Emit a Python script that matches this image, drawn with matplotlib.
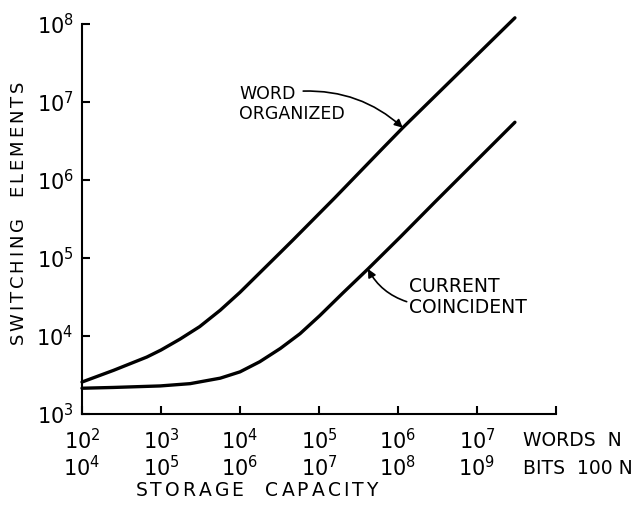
import matplotlib
matplotlib.use("Agg")
import matplotlib.pyplot as plt
from matplotlib.transforms import blended_transform_factory

plt.rcParams['font.family'] = ['DejaVu Sans']
plt.rcParams['mathtext.default'] = 'regular'

# ---- data ----
word_N = [100, 251, 661, 1000, 1740, 3090, 5620, 10000, 17800, 32400, 46800,
          158000, 631000, 1150000, 30200000]
word_elements = [2570, 3630, 5370, 6610, 9120, 13200, 21400, 36300, 64600, 117500, 170000,
                 589000, 2510000, 4680000, 120000000]

cc_N = [100, 251, 977, 2340, 5620, 10000, 17800, 32400, 57500, 102000, 200000,
        417000, 1070000, 2950000, 30200000]
cc_elements = [2140, 2190, 2290, 2450, 2880, 3470, 4680, 6920, 10700, 18200, 35500,
               72400, 186000, 525000, 5500000]

word_exps = [2, 3, 4, 5, 6, 7]
bits_exps = [4, 5, 6, 7, 8, 9]
y_exps = [3, 4, 5, 6, 7, 8]


def spaced(s):
    words = [r'\,'.join(w) for w in s.split(' ')]
    return '$' + r'\quad\,'.join(words) + '$'


fig = plt.figure(figsize=(6.4, 5.25), dpi=100)
ax = fig.add_axes([82/640, 1 - 414/525, (556-82)/640, (414-24)/525])
ax.set_xscale('log')
ax.set_yscale('log')
ax.set_xlim(1e2, 1e8)
ax.set_ylim(1e3, 1e8)

ax.plot(word_N, word_elements, color='black', lw=2.4, solid_capstyle='round',
        solid_joinstyle='round', clip_on=False)
ax.plot(cc_N, cc_elements, color='black', lw=2.4, solid_capstyle='round',
        solid_joinstyle='round', clip_on=False)

for s in ['top', 'right']:
    ax.spines[s].set_visible(False)
for s in ['left', 'bottom']:
    ax.spines[s].set_linewidth(1.5)

ax.minorticks_off()
ax.set_xticks([10.0**e for e in word_exps] + [1e8])
ax.set_xticklabels([r'$10^{%d}$' % e for e in word_exps] + [''])
ax.set_yticks([10.0**e for e in y_exps])
ax.set_yticklabels([r'$10^{%d}$' % e for e in y_exps])
ax.tick_params(direction='in', length=6, width=1.5, labelsize=15)
ax.tick_params(axis='x', pad=10)
ax.tick_params(axis='y', pad=6)

# second row of x labels (bits)
tr = blended_transform_factory(ax.transData, ax.transAxes)
for we, be in zip(word_exps, bits_exps):
    ax.text(10.0**we, -0.138, r'$10^{%d}$' % be, transform=tr, ha='center', va='center',
            fontsize=15)

ax.text(0.93, -0.068, 'WORDS  N', transform=ax.transAxes, ha='left', va='center',
        fontsize=13.5)
ax.text(0.93, -0.140, 'BITS  100 N', transform=ax.transAxes, ha='left', va='center',
        fontsize=13.5)
ax.text(0.37, -0.197, spaced('STORAGE CAPACITY'), transform=ax.transAxes,
        ha='center', va='center', fontsize=13.5)

fig.text(19/640, 1 - 213/525, spaced('SWITCHING ELEMENTS'), rotation=90,
         ha='center', va='center', fontsize=13)

# annotations
ax.text(10**3.99, 10**6.98, 'WORD\nORGANIZED', fontsize=12.5, ha='left', va='center',
        linespacing=1.15)
ax.annotate('', xy=(1150000, 4680000), xytext=(10**4.8, 10**7.14),
            arrowprops=dict(arrowstyle='-|>', color='black', lw=1.2, mutation_scale=12,
                            connectionstyle='arc3,rad=-0.2', shrinkA=0, shrinkB=0))
ax.annotate('', xy=(417000, 72400), xytext=(10**6.11, 10**4.44),
            arrowprops=dict(arrowstyle='-|>', color='black', lw=1.2, mutation_scale=12,
                            connectionstyle='arc3,rad=-0.2', shrinkA=0, shrinkB=0))
ax.text(10**6.14, 10**4.50, 'CURRENT\nCOINCIDENT', fontsize=13.5, ha='left', va='center',
        linespacing=1.15)

fig.savefig('out.png', dpi=100)
